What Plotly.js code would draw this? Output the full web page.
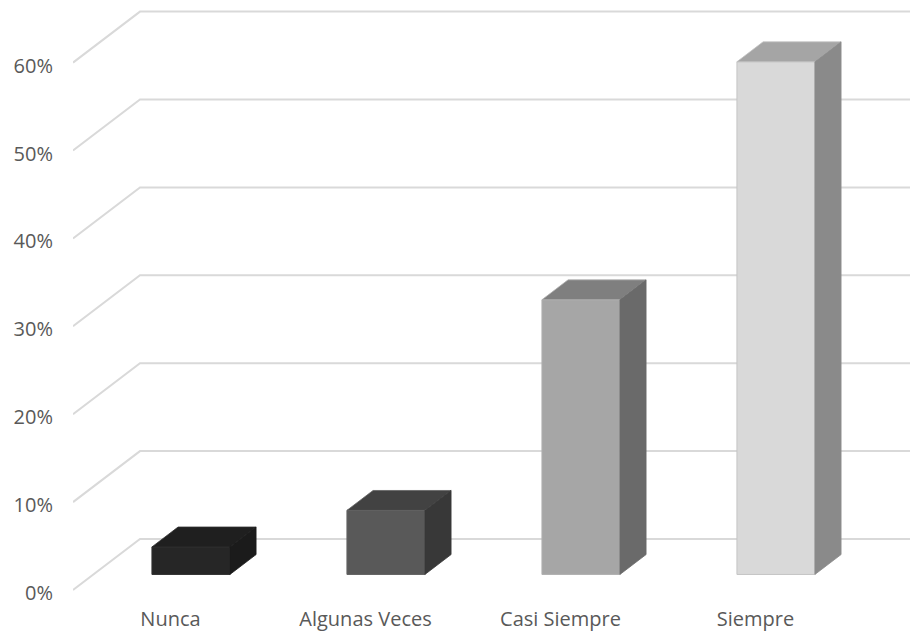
<!DOCTYPE html>
<html>
<head>
<meta charset="utf-8">
<script src="https://cdn.plot.ly/plotly-3.0.1.min.js"></script>
<style>
  html, body { margin: 0; padding: 0; background: #ffffff; }
  #chart { width: 910px; height: 635px; }
</style>
</head>
<body>
<div id="chart"></div>
<script>
// Survey answers and their share of responses (%)
const categories = ['Nunca', 'Algunas Veces', 'Casi Siempre', 'Siempre'];
const values = [3.13, 7.29, 31.25, 58.33];
const tickValues = [0, 10, 20, 30, 40, 50, 60];
const tickLabels = tickValues.map(v => v + '%');

// Face shading per bar (front, top, right side)
const frontColors = ['#262626', '#595959', '#a6a6a6', '#d9d9d9'];
const topColors = ['#1f1f1f', '#424242', '#7f7f7f', '#a5a5a5'];
const sideColors = ['#1b1b1b', '#383838', '#6a6a6a', '#8a8a8a'];
const edgeColors = ['#303030', '#626262', '#b0b0b0', '#c4c4c4'];

// Pixel geometry of the oblique projection
const W = 910, H = 635;
const plotLeft = 73, plotRight = 910, plotTop = 0, plotBottom = 600;
const zeroY = 590;            // front-plane 0 % baseline
const pxPerCat = 195;         // width of one category on the front plane
const pxPerPct = 8.79;        // vertical pixels per percentage point
const wallDx = 67 / pxPerCat; // floor depth, expressed in axis units
const wallDy = 51 / pxPerPct;
const barFront = 0.305, barBack = 0.695; // bar depth span (fraction of floor depth)
const barWidth = 0.4;

const xRange = [-0.5, -0.5 + (plotRight - plotLeft) / pxPerCat];
const yRange = [-(plotBottom - zeroY) / pxPerPct, (zeroY - plotTop) / pxPerPct];

// Side-wall and back-wall gridlines for every tick
const gridShapes = tickValues.map(t => ({
  type: 'path', xref: 'x', yref: 'y', layer: 'below',
  path: `M ${xRange[0]},${t} L ${xRange[0] + wallDx},${t + wallDy} L ${xRange[1] + 1},${t + wallDy}`,
  line: { color: '#d9d9d9', width: 2 }
}));

const baseY = barFront * wallDy;
const shiftX = barFront * wallDx;
const depthX = (barBack - barFront) * wallDx;
const depthY = (barBack - barFront) * wallDy;

// Front faces as ordinary bars
const traces = [{
  type: 'bar',
  x: categories.map((_, i) => i + shiftX),
  y: values,
  base: baseY,
  width: barWidth,
  marker: { color: frontColors, line: { color: edgeColors, width: 1 } },
  hoverinfo: 'skip',
  showlegend: false
}];

// Top and side faces of each bar
values.forEach((v, i) => {
  const xl = i + shiftX - barWidth / 2;
  const xr = i + shiftX + barWidth / 2;
  const top = baseY + v;
  traces.push({
    type: 'scatter', mode: 'lines', fill: 'toself',
    x: [xl, xr, xr + depthX, xl + depthX, xl],
    y: [top, top, top + depthY, top + depthY, top],
    fillcolor: topColors[i],
    line: { color: edgeColors[i], width: 0.8 },
    hoverinfo: 'skip', showlegend: false
  });
  traces.push({
    type: 'scatter', mode: 'lines', fill: 'toself',
    x: [xr, xr, xr + depthX, xr + depthX, xr],
    y: [baseY, top, top + depthY, baseY + depthY, baseY],
    fillcolor: sideColors[i],
    line: { color: sideColors[i], width: 0.8 },
    hoverinfo: 'skip', showlegend: false
  });
});

const layout = {
  width: W, height: H,
  margin: { l: plotLeft, r: W - plotRight, t: plotTop, b: H - plotBottom },
  paper_bgcolor: '#ffffff', plot_bgcolor: '#ffffff',
  font: { family: 'Open Sans, sans-serif', size: 20, color: '#595959' },
  shapes: gridShapes,
  xaxis: {
    range: xRange, showgrid: false, zeroline: false, showline: false,
    tickmode: 'array', tickvals: categories.map((_, i) => i), ticktext: categories,
    ticks: '', ticklabelstandoff: 5, fixedrange: true
  },
  yaxis: {
    range: yRange, showgrid: false, zeroline: false, showline: false,
    tickmode: 'array', tickvals: tickValues, ticktext: tickLabels,
    ticks: '', ticklabelstandoff: 19, ticklabelshift: 3, fixedrange: true
  }
};

Plotly.newPlot('chart', traces, layout, { displayModeBar: false, staticPlot: true });
</script>
</body>
</html>
